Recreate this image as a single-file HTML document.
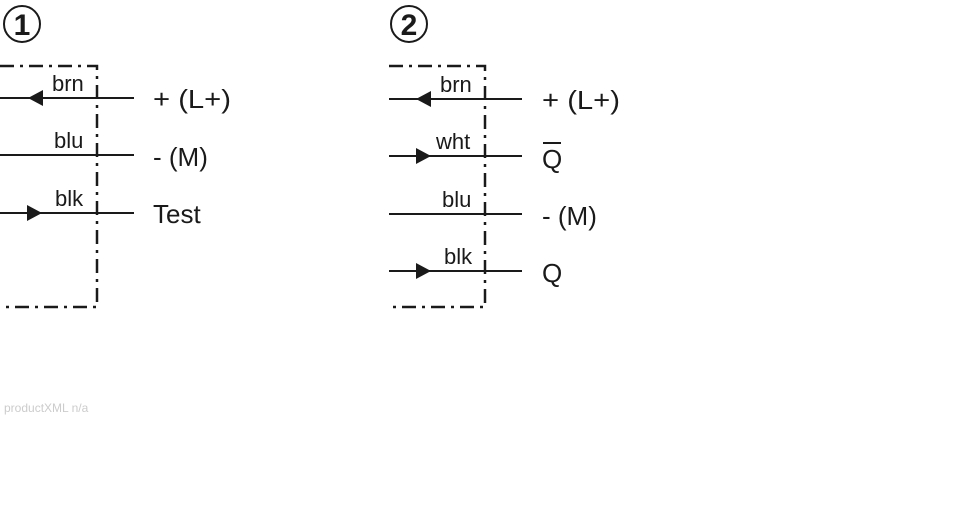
<!DOCTYPE html>
<html><head><style>
body{margin:0;background:#fff;width:970px;height:520px;overflow:hidden}
svg text{font-family:"Liberation Sans",sans-serif;fill:#1a1a1a}
</style></head><body>
<svg width="970" height="520" viewBox="0 0 970 520" xmlns="http://www.w3.org/2000/svg">
<g stroke="#1a1a1a" fill="none">
<circle cx="22" cy="24" r="18" stroke-width="2"/>
<path d="M0 66 H97 V307 H0" stroke-width="2.5" stroke-dasharray="14 6 3 6"/>
<path d="M0 98 H134 M0 155 H134 M0 213 H134" stroke-width="2"/>
<circle cx="409" cy="24" r="18" stroke-width="2"/>
<path d="M389 66 H485 V307 H389" stroke-width="2.5" stroke-dasharray="14 6 3 6"/>
<path d="M389 99 H522 M389 156 H522 M389 214 H522 M389 271 H522" stroke-width="2"/>
</g>
<g fill="#1a1a1a">
<polygon points="28,98 43,90 43,106"/>
<polygon points="42,213 27,205 27,221"/>
<polygon points="416,99 431,91 431,107"/>
<polygon points="431,156 416,148 416,164"/>
<polygon points="431,271 416,263 416,279"/>
</g>
<text x="22" y="35" font-size="30" text-anchor="middle" font-weight="bold">1</text>
<text x="409" y="35" font-size="30" text-anchor="middle" font-weight="bold">2</text>
<g font-size="22">
<text x="52" y="91">brn</text>
<text x="54" y="148">blu</text>
<text x="55" y="206">blk</text>
<text x="440" y="92">brn</text>
<text x="436" y="149">wht</text>
<text x="442" y="207">blu</text>
<text x="444" y="264">blk</text>
</g>
<g font-size="26">
<text x="153" y="108" textLength="78" lengthAdjust="spacingAndGlyphs">+ (L+)</text>
<text x="153" y="166">- (M)</text>
<text x="153" y="223">Test</text>
<text x="542" y="109" textLength="78" lengthAdjust="spacingAndGlyphs">+ (L+)</text>
<text x="542" y="168">Q</text>
<text x="542" y="225">- (M)</text>
<text x="542" y="282">Q</text>
</g>
<line x1="543" y1="143" x2="561" y2="143" stroke="#1a1a1a" stroke-width="2"/>
<text x="4" y="412" font-size="12" style="fill:#ccc">productXML n/a</text>
</svg>
</body></html>
